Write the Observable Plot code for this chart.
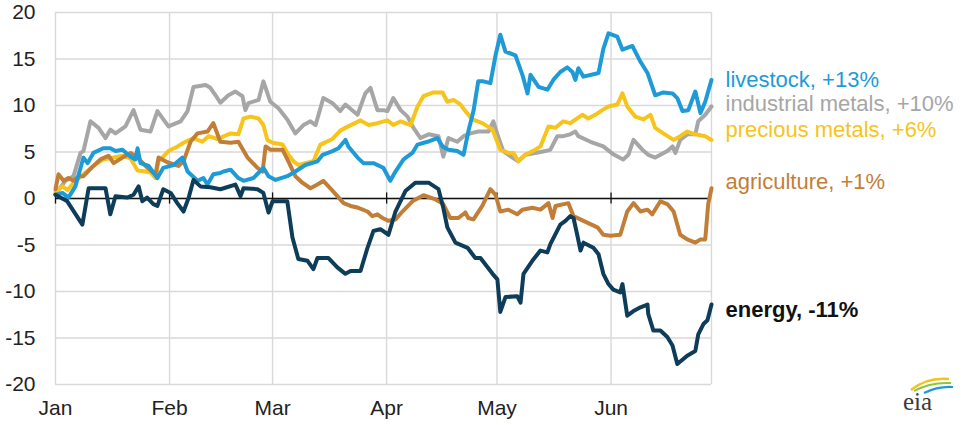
<!DOCTYPE html>
<html><head><meta charset="utf-8">
<script src="https://cdn.jsdelivr.net/npm/d3@7"></script>
<script src="https://cdn.jsdelivr.net/npm/@observablehq/plot@0.6"></script>
<style>
html,body{margin:0;padding:0;background:#fff;}
#wrap{position:relative;width:970px;height:425px;}
#logo{position:absolute;left:897px;top:374px;}
</style></head>
<body><div id="wrap"><div id="chart"></div>
<svg id="logo" width="60" height="46" viewBox="0 0 60 46">
  <path d="M14 16 Q30 3 52 5" fill="none" stroke="#f2c31b" stroke-width="2.4"/>
  <path d="M17 17 Q33 8 54 9" fill="none" stroke="#8cc63f" stroke-width="2"/>
  <path d="M27 19 Q41 12 56 13" fill="none" stroke="#1e9bd7" stroke-width="2.2"/>
  <text x="6" y="36" font-family="Liberation Serif, DejaVu Serif, serif" font-size="25" fill="#3a3a3a">eia</text>
</svg></div>
<script>
// ---- data (day = days since Jan 1; value = % change since Jan 1) ----
const monthStarts = [0, 31, 59, 90, 120, 151];
const monthLabels = ["Jan", "Feb", "Mar", "Apr", "May", "Jun"];
const yTicks = [-20, -15, -10, -5, 0, 5, 10, 15, 20];
const lastDay = 178.3;

const seriesNames = ["industrial metals", "precious metals", "agriculture", "livestock", "energy"];
const seriesColors = ["#a6a6a6", "#f7c41c", "#c27e37", "#1e9bd7", "#0e3d5a"];
const labelNames = ["livestock", "industrial metals", "precious metals", "agriculture"];
const labelTexts = ["livestock, +13%", "industrial metals, +10%", "precious metals, +6%", "agriculture, +1%"];
const labelAt = [12.8, 10.2, 7.4, 1.8];
const energyLabel = "energy, -11%";
const energyLabelAt = -12.0;

const livestock = [[0,0.4],[1.9,0.6],[3.5,0.1],[5.4,1.3],[7.6,4.4],[8.7,3.8],[10.3,4.9],[13.0,5.4],[14.9,5.4],[16.3,5.1],[18.2,5.25],[20.4,4.5],[21.7,4.2],[22.3,5.4],[23.1,3.8],[25.3,3.5],[27.7,2.2],[29.3,3.3],[32.1,3.6],[34.5,4.4],[35.9,2.9],[38.6,1.9],[40.2,2.2],[41.3,1.5],[42.9,2.6],[44.8,2.75],[45.7,2.9],[47.6,3.1],[49.7,2.2],[51.1,1.9],[53.8,2.2],[56.5,3.3],[57.9,2.4],[59.8,2.0],[63.0,2.4],[65.2,2.9],[67.9,3.6],[71.2,4.0],[72.6,4.7],[75.3,5.1],[76.9,5.4],[78.8,6.3],[79.6,5.6],[82.1,4.4],[83.7,3.8],[86.4,3.8],[89.1,3.3],[91.0,1.9],[92.4,2.9],[94.6,4.2],[97.0,4.9],[98.4,5.8],[101.1,6.1],[103.8,6.5],[105.2,5.6],[106.8,5.25],[109.2,5.1],[110.9,4.7],[112.2,7.2],[113.6,9.4],[114.9,12.6],[116.3,12.6],[118.2,12.4],[119.6,15.4],[120.9,17.6],[122.3,15.8],[125.0,15.4],[126.9,13.3],[128.3,11.3],[129.1,13.3],[131.3,12.0],[133.7,11.7],[135.3,12.75],[137.2,13.6],[139.1,14.1],[140.5,13.6],[141.3,12.75],[142.1,14.0],[143.5,13.1],[147.6,13.5],[148.9,16.1],[150.3,17.75],[152.7,17.4],[154.1,16.0],[156.8,16.4],[159.0,14.7],[160.9,13.5],[163.0,11.1],[165.2,11.4],[167.7,11.3],[169.0,10.8],[170.4,9.4],[172.0,9.5],[173.9,11.5],[175.3,9.2],[176.6,10.4],[178.3,12.75]];

const industrialMetals = [[0,0.5],[2.7,1.9],[4.9,2.4],[6.8,4.9],[7.6,5.1],[9.5,8.3],[11.7,7.6],[13.6,6.5],[14.9,7.4],[16.3,7.0],[19.0,7.75],[21.2,9.5],[23.1,7.4],[25.8,7.2],[27.7,9.4],[30.7,7.75],[34.0,8.3],[35.9,9.4],[37.5,12.0],[40.8,12.2],[42.1,11.9],[43.5,11.1],[44.8,10.3],[47.0,11.1],[48.9,11.5],[50.8,11.0],[51.6,9.5],[52.4,10.25],[55.2,10.6],[56.5,12.6],[58.4,10.4],[60.6,9.7],[63.0,8.5],[65.2,7.0],[67.4,7.9],[69.3,8.3],[70.7,7.9],[72.8,10.8],[75.3,10.25],[77.4,9.4],[78.8,10.1],[82.1,9.0],[84.2,11.3],[85.6,11.9],[87.5,9.5],[88.9,9.5],[90.2,9.4],[91.8,10.8],[93.8,9.5],[95.7,8.8],[97.3,7.6],[99.2,6.5],[101.4,6.9],[104.1,6.7],[105.4,4.5],[106.8,6.5],[109.2,6.1],[110.9,6.7],[112.8,7.0],[114.9,7.2],[117.7,7.2],[119.0,8.3],[120.1,6.9],[121.7,5.1],[124.2,4.4],[125.8,4.0],[127.7,4.7],[130.4,4.9],[133.2,5.1],[134.5,5.25],[136.4,6.7],[138.0,6.7],[139.9,6.9],[141.3,7.2],[142.1,6.7],[145.4,6.1],[148.9,5.6],[151.6,4.75],[154.3,4.2],[155.7,4.7],[157.1,6.3],[159.5,5.25],[161.1,4.7],[163.0,4.4],[166.3,5.1],[167.7,5.6],[168.5,4.9],[169.8,6.3],[171.7,6.9],[173.9,6.9],[174.7,8.3],[176.6,9.0],[178.3,9.9]];

const preciousMetals = [[0,0.7],[1.9,1.3],[3.3,0.9],[4.9,1.7],[7.6,2.6],[10.3,3.5],[13.0,4.2],[15.8,4.4],[18.2,4.6],[20.4,4.3],[22.3,3.0],[24.5,2.9],[25.8,2.8],[27.2,2.2],[28.0,4.0],[29.3,4.5],[30.7,5.1],[33.2,5.6],[34.8,6.0],[37.5,6.5],[39.9,6.1],[41.6,6.7],[44.0,6.4],[47.6,7.0],[49.7,6.9],[51.1,8.6],[53.0,8.8],[55.2,8.6],[56.5,7.9],[57.6,6.3],[59.0,6.0],[61.7,5.8],[63.3,4.7],[64.7,4.0],[66.0,3.6],[67.9,3.8],[70.1,4.0],[72.0,5.8],[75.3,6.4],[77.4,7.3],[79.3,7.7],[82.9,8.4],[85.1,7.9],[87.5,8.1],[90.2,8.4],[91.8,7.9],[93.8,8.3],[96.5,7.9],[98.4,9.9],[100.0,11.0],[102.7,11.4],[105.2,11.4],[106.5,10.4],[108.2,10.6],[110.1,10.1],[111.4,9.4],[113.3,8.5],[116.0,8.1],[118.8,7.4],[120.9,5.25],[123.1,4.9],[124.5,4.9],[125.8,4.0],[127.7,4.7],[130.4,5.25],[131.8,5.6],[134.0,7.75],[135.9,7.6],[138.0,8.3],[139.9,8.1],[143.2,9.0],[144.8,8.6],[146.7,9.0],[148.6,9.5],[150.3,9.9],[152.7,10.1],[154.1,11.3],[155.4,9.9],[157.6,8.8],[159.8,8.5],[161.7,9.0],[163.0,7.6],[165.2,7.0],[168.0,6.3],[169.8,6.7],[171.7,7.2],[173.9,6.9],[176.6,6.7],[178.3,6.3]];

const agriculture = [[0,1.0],[0.8,2.6],[2.2,1.9],[3.5,2.2],[4.9,1.9],[6.3,2.4],[7.6,2.4],[10.3,3.5],[12.2,4.2],[14.4,4.6],[15.8,3.8],[18.2,4.4],[20.4,4.9],[22.3,4.4],[25.0,3.3],[27.2,2.6],[28.0,4.4],[30.4,3.9],[33.4,3.5],[34.8,4.0],[36.7,6.1],[38.6,7.0],[41.3,7.2],[42.9,8.1],[44.8,6.1],[47.6,6.0],[49.7,6.1],[52.2,4.4],[54.9,3.3],[56.3,2.9],[57.1,5.6],[58.4,5.25],[61.7,5.25],[63.3,4.0],[65.2,2.4],[67.1,1.7],[69.3,1.1],[71.2,1.5],[72.8,1.9],[74.7,1.1],[76.6,0.25],[78.3,-0.5],[80.2,-0.8],[82.3,-1.0],[84.8,-1.4],[86.1,-1.9],[87.5,-1.7],[88.9,-2.1],[90.5,-2.4],[92.4,-2.25],[94.3,-1.4],[97.0,-0.3],[100.0,0.35],[103.3,-0.1],[105.4,-0.6],[107.3,-2.1],[109.5,-2.1],[111.4,-1.5],[112.2,-2.1],[113.6,-2.25],[116.0,-0.8],[118.2,1.0],[119.6,0.4],[120.9,-1.4],[123.1,-1.2],[125.5,-1.7],[126.9,-1.2],[129.6,-1.0],[131.8,-1.2],[134.0,-0.5],[135.1,-2.1],[135.9,-0.8],[139.4,-0.5],[140.8,-1.9],[143.5,-2.4],[147.3,-3.1],[148.9,-3.9],[150.8,-4.0],[153.5,-3.9],[155.4,-1.4],[157.1,-0.5],[159.0,-1.4],[160.9,-1.2],[162.2,-1.7],[164.4,-0.3],[166.3,-0.6],[168.0,-1.4],[169.8,-3.9],[171.7,-4.4],[173.9,-4.75],[175.3,-4.4],[176.6,-4.4],[177.4,-0.6],[178.3,1.1]];

const energy = [[0,0.4],[3.2,-0.3],[7.3,-2.8],[9.0,1.1],[13.6,1.1],[14.9,-1.7],[16.3,0.25],[19.5,0.1],[21.2,0.4],[22.6,1.3],[23.6,-0.3],[24.9,0.1],[26.6,-0.6],[27.7,-0.8],[29.3,1.0],[31.3,0.6],[33.1,-0.5],[34.8,-1.4],[36.2,0.1],[37.5,2.0],[39.4,1.3],[42.1,1.2],[44.8,1.0],[45.7,1.1],[48.9,1.5],[50.3,0.25],[51.1,1.1],[54.9,1.0],[56.5,0.6],[57.9,-1.5],[59.0,-0.3],[63.0,-0.3],[64.4,-4.2],[66.0,-6.5],[68.5,-6.7],[70.1,-7.6],[71.2,-6.4],[74.2,-6.4],[76.6,-7.4],[78.8,-8.1],[80.2,-7.8],[82.9,-7.8],[84.8,-5.3],[86.4,-3.5],[88.3,-3.3],[90.5,-3.9],[92.4,-1.4],[95.1,0.8],[97.8,1.7],[101.4,1.7],[104.1,1.0],[105.4,-1.0],[106.5,-3.1],[108.7,-4.75],[112.0,-5.3],[114.1,-6.4],[115.5,-6.4],[118.8,-8.1],[120.1,-8.7],[120.9,-12.2],[122.3,-10.6],[125.5,-10.5],[126.4,-11.2],[127.2,-8.1],[129.6,-6.7],[131.8,-5.6],[133.7,-5.8],[134.5,-4.9],[137.2,-2.8],[138.6,-2.4],[139.9,-1.9],[140.8,-2.1],[141.8,-3.9],[142.7,-5.6],[143.5,-4.75],[146.2,-5.3],[147.6,-6.0],[148.9,-8.1],[150.3,-9.2],[151.6,-9.8],[153.5,-10.1],[154.1,-9.2],[155.4,-12.6],[157.1,-12.1],[159.0,-11.7],[160.9,-11.4],[161.1,-12.4],[162.5,-14.2],[164.4,-14.2],[166.3,-14.9],[167.7,-15.8],[169.0,-17.8],[171.7,-16.9],[173.9,-16.4],[174.7,-14.6],[176.1,-13.5],[177.2,-13.1],[178.3,-11.4]];

// ---- build table ----
const seriesData = {"livestock": livestock, "industrial metals": industrialMetals, "precious metals": preciousMetals, "agriculture": agriculture, "energy": energy};
const rows = seriesNames.flatMap(name => seriesData[name].map(([day, value]) => ({series: name, day, value})));
const labelRows = labelNames.map((s, i) => ({series: s, text: labelTexts[i], at: labelAt[i]}));

const font = "'Liberation Sans', Arial, Helvetica, sans-serif";

const chart = Plot.plot({
  width: 970,
  height: 425,
  marginLeft: 55,
  marginRight: 259,
  marginTop: 12,
  marginBottom: 41,
  style: {fontFamily: font, fontSize: "21px", color: "#222", background: "#fff", overflow: "visible"},
  x: {type: "linear", domain: [0, lastDay]},
  y: {domain: [-20, 20]},
  color: {domain: seriesNames, range: seriesColors},
  marks: [
    Plot.ruleY(yTicks, {stroke: "#d9d9d9", strokeWidth: 1.4}),
    Plot.ruleX(monthStarts, {stroke: "#d9d9d9", strokeWidth: 1.4}),
    Plot.ruleX([lastDay], {stroke: "#d9d9d9", strokeWidth: 1.4}),
    Plot.ruleY([0], {stroke: "#111", strokeWidth: 1.3}),
    Plot.ruleX(monthStarts, {y1: -0.6, y2: 0.6, stroke: "#111", strokeWidth: 1.3}),
    Plot.axisY({ticks: yTicks, tickSize: 0, tickPadding: 20, fontSize: 21, label: null, tickFormat: d => String(d)}),
    Plot.axisX({ticks: monthStarts, tickSize: 0, tickPadding: 16, fontSize: 21, label: null,
      tickFormat: d => monthLabels[monthStarts.indexOf(d)]}),
    Plot.line(rows, {x: "day", y: "value", z: "series", stroke: "series", strokeWidth: 4, strokeLinejoin: "round", strokeLinecap: "round"}),
    Plot.text(labelRows, {x: () => lastDay, y: "at", text: "text", fill: "series", textAnchor: "start", dx: 14, fontSize: 22}),
    Plot.text([energyLabel], {x: () => lastDay, y: () => energyLabelAt, text: d => d, fill: "#111", textAnchor: "start", dx: 14, fontSize: 22, fontWeight: "bold"})
  ]
});
document.getElementById("chart").appendChild(chart);
</script>
</body></html>
